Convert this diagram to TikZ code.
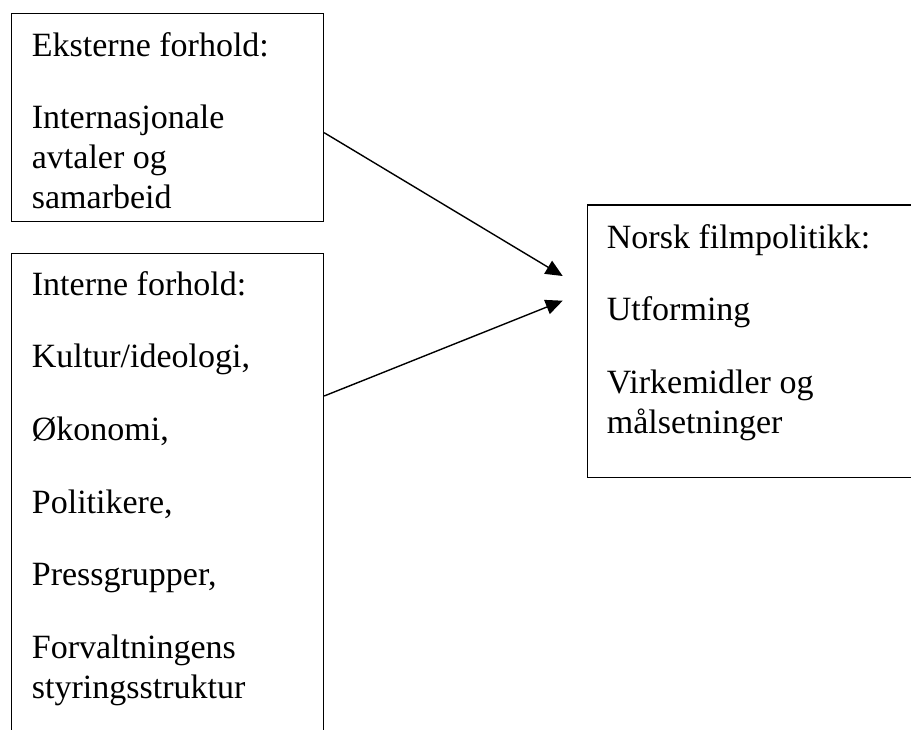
\documentclass[tikz,border=0pt]{standalone}
\usepackage{fontspec}
\setmainfont{Liberation Serif}
\usetikzlibrary{arrows.meta}
\begin{document}
\begin{tikzpicture}[x=1pt,y=-1pt,
  boxline/.style={draw=black,line width=1.5pt},
  txt/.style={anchor=base west,inner sep=0pt,font=\fontsize{34}{40}\selectfont},
  conn/.style={line width=1.4pt,-{Triangle[length=17pt,width=15pt]}}]
\useasboundingbox (0,0) rectangle (911,729);
\clip (0,0) rectangle (911,729);
\fill[white] (0,0) rectangle (911,729);
% boxes
\node[boxline,inner sep=0pt,minimum width=312.2pt,minimum height=208pt,anchor=north west] (b1) at (10.5,12.7) {};
\node[boxline,inner sep=0pt,minimum width=312.2pt,minimum height=520pt,anchor=north west] (b2) at (10.5,252.7) {};
\node[boxline,inner sep=0pt,minimum width=360pt,minimum height=272.4pt,anchor=north west] (b3) at (586.7,204.3) {};
% texts box 1
\node[txt] (t11) at (31.7,56.7) {Eksterne forhold:};
\node[txt] (t12) at (31.7,128.3) {Internasjonale};
\node[txt] (t13) at (31.7,168.3) {avtaler og};
\node[txt] (t14) at (31.7,208.3) {samarbeid};
% texts box 2
\node[txt] (t21) at (31.7,295) {Interne forhold:};
\node[txt] (t22) at (31.7,367) {Kultur/ideologi,};
\node[txt] (t23) at (31.7,440) {Økonomi,};
\node[txt] (t24) at (31.7,513) {Politikere,};
\node[txt] (t25) at (31.7,585.5) {Pressgrupper,};
\node[txt] (t26) at (31.7,658) {Forvaltningens};
\node[txt] (t27) at (31.7,698) {styringsstruktur};
% texts box 3
\node[txt] (t31) at (606.7,248.3) {Norsk filmpolitikk:};
\node[txt] (t32) at (606.7,320.5) {Utforming};
\node[txt] (t33) at (606.7,393) {Virkemidler og};
\node[txt] (t34) at (606.7,433) {målsetninger};
% connectors
\coordinate (s1) at (b1.north east |- 0,132.7);
\coordinate (s2) at (b2.north east |- 0,396);
\coordinate (e1) at (562.7,276);
\coordinate (e2) at (562.7,300.7);
\draw[conn] (s1) -- (e1);
\draw[conn] (s2) -- (e2);
\end{tikzpicture}
\end{document}
